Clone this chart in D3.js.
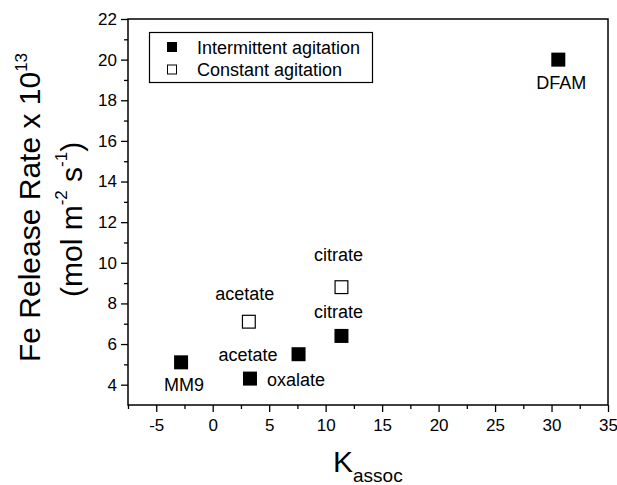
<!DOCTYPE html>
<html lang="en">
<head>
<meta charset="utf-8">
<style>
  body { margin: 0; background: #fff; }
  text { font-family: "Liberation Sans", Arial, Helvetica, sans-serif; fill: #000; }
</style>
<script src="https://cdn.jsdelivr.net/npm/d3@7"></script>
</head>
<body>
<script>
// data
var intermittentK    = [-2.8, 3.3, 7.6, 11.4, 30.6];
var intermittentRate = [5.1, 4.3, 5.5, 6.4, 20.0];
var intermittentName = ["MM9", "oxalate", "acetate", "citrate", "DFAM"];

var constantK    = [3.2, 11.4];
var constantRate = [7.1, 8.8];
var constantName = ["acetate", "citrate"];

var xTicks = [-5, 0, 5, 10, 15, 20, 25, 30, 35];
var yTicks = [4, 6, 8, 10, 12, 14, 16, 18, 20, 22];

// label placement: [dx, dy, anchor]
var intermittentLabelPos = [[3, 29, "middle"], [17, 7, "start"], [-21, 7, "end"], [-3, -18, "middle"], [3, 29, "middle"]];
var constantLabelPos = [[-4, -22, "middle"], [-3, -26, "middle"]];

var width = 617, height = 485;
var plotLeft = 128, plotRight = 608, plotTop = 19, plotBottom = 405;

var svg = d3.select("body").append("svg")
  .attr("width", width)
  .attr("height", height);

var x = d3.scaleLinear().domain([-7.5, 35]).range([plotLeft, plotRight]);
var y = d3.scaleLinear().domain([3, 22]).range([plotBottom, plotTop]);

function plain(d) { return String(d); }

// minor ticks
svg.append("g")
  .attr("transform", "translate(0," + plotBottom + ")")
  .call(d3.axisBottom(x).tickValues(d3.range(-7.5, 35, 5)).tickSize(4).tickFormat(""))
  .call(function(g){ g.select(".domain").remove(); g.selectAll("line").attr("stroke-width", 1.3); });

svg.append("g")
  .attr("transform", "translate(" + plotLeft + ",0)")
  .call(d3.axisLeft(y).tickValues(d3.range(5, 22, 2)).tickSize(4).tickFormat(""))
  .call(function(g){ g.select(".domain").remove(); g.selectAll("line").attr("stroke-width", 1.3); });

// major ticks
svg.append("g")
  .attr("transform", "translate(0," + plotBottom + ")")
  .call(d3.axisBottom(x).tickValues(xTicks).tickSize(7).tickPadding(7).tickFormat(plain))
  .call(function(g){
    g.select(".domain").remove();
    g.selectAll("line").attr("stroke-width", 1.3);
    g.selectAll("text").attr("font-size", null).attr("font-family", null).style("font-size", "17px");
  });

svg.append("g")
  .attr("transform", "translate(" + plotLeft + ",0)")
  .call(d3.axisLeft(y).tickValues(yTicks).tickSize(7).tickPadding(4).tickFormat(plain))
  .call(function(g){
    g.select(".domain").remove();
    g.selectAll("line").attr("stroke-width", 1.3);
    g.selectAll("text").attr("font-size", null).attr("font-family", null).style("font-size", "17px");
  });

// frame
svg.append("rect")
  .attr("x", plotLeft).attr("y", plotTop)
  .attr("width", plotRight - plotLeft).attr("height", plotBottom - plotTop)
  .attr("fill", "none").attr("stroke", "#000").attr("stroke-width", 1.5);

// points
var sq = 14;
svg.selectAll(".filled")
  .data(intermittentK)
  .enter().append("rect")
  .attr("class", "filled")
  .attr("x", function(d){ return x(d) - sq / 2; })
  .attr("y", function(d, i){ return y(intermittentRate[i]) - sq / 2; })
  .attr("width", sq).attr("height", sq)
  .attr("fill", "#000");

svg.selectAll(".open")
  .data(constantK)
  .enter().append("rect")
  .attr("class", "open")
  .attr("x", function(d){ return x(d) - sq / 2 + 0.6; })
  .attr("y", function(d, i){ return y(constantRate[i]) - sq / 2 + 0.6; })
  .attr("width", sq - 1.2).attr("height", sq - 1.2)
  .attr("fill", "#fff").attr("stroke", "#000").attr("stroke-width", 1.2);

// point labels
svg.selectAll(".ilab")
  .data(intermittentName)
  .enter().append("text")
  .attr("class", "ilab")
  .attr("x", function(d, i){ return x(intermittentK[i]) + intermittentLabelPos[i][0]; })
  .attr("y", function(d, i){ return y(intermittentRate[i]) + intermittentLabelPos[i][1]; })
  .attr("text-anchor", function(d, i){ return intermittentLabelPos[i][2]; })
  .style("font-size", "18px")
  .text(function(d){ return d; });

svg.selectAll(".clab")
  .data(constantName)
  .enter().append("text")
  .attr("class", "clab")
  .attr("x", function(d, i){ return x(constantK[i]) + constantLabelPos[i][0]; })
  .attr("y", function(d, i){ return y(constantRate[i]) + constantLabelPos[i][1]; })
  .attr("text-anchor", function(d, i){ return constantLabelPos[i][2]; })
  .style("font-size", "18px")
  .text(function(d){ return d; });

// legend
var legend = svg.append("g");
legend.append("rect")
  .attr("x", 149.5).attr("y", 32.5)
  .attr("width", 223).attr("height", 50)
  .attr("fill", "#fff").attr("stroke", "#000").attr("stroke-width", 1.2);
legend.append("rect")
  .attr("x", 167).attr("y", 42).attr("width", 10).attr("height", 10).attr("fill", "#000");
legend.append("rect")
  .attr("x", 167.5).attr("y", 65).attr("width", 9).attr("height", 9)
  .attr("fill", "#fff").attr("stroke", "#000").attr("stroke-width", 1);
legend.append("text").attr("x", 197).attr("y", 54).style("font-size", "18px").text("Intermittent agitation");
legend.append("text").attr("x", 197).attr("y", 76).style("font-size", "18px").text("Constant agitation");

// x title
var xt = svg.append("text")
  .attr("x", 333).attr("y", 471.5)
  .style("font-size", "30px")
  .text("K");
xt.append("tspan").attr("dy", 10.5).style("font-size", "19px").text("assoc");

// y title, two lines
var yt1 = svg.append("text")
  .attr("transform", "rotate(-90)")
  .attr("x", -362).attr("y", 40)
  .style("font-size", "30px")
  .text("Fe Release Rate x 10");
yt1.append("tspan").attr("dy", -13).style("font-size", "17px").text("13");

var yt2 = svg.append("text")
  .attr("transform", "rotate(-90)")
  .attr("x", -297).attr("y", 82)
  .style("font-size", "30px")
  .text("(mol m");
yt2.append("tspan").attr("dy", -15).style("font-size", "17px").text("-2");
yt2.append("tspan").attr("dy", 15).text(" s");
yt2.append("tspan").attr("dy", -15).style("font-size", "17px").text("-1");
yt2.append("tspan").attr("dy", 15).text(")");
</script>
</body>
</html>
